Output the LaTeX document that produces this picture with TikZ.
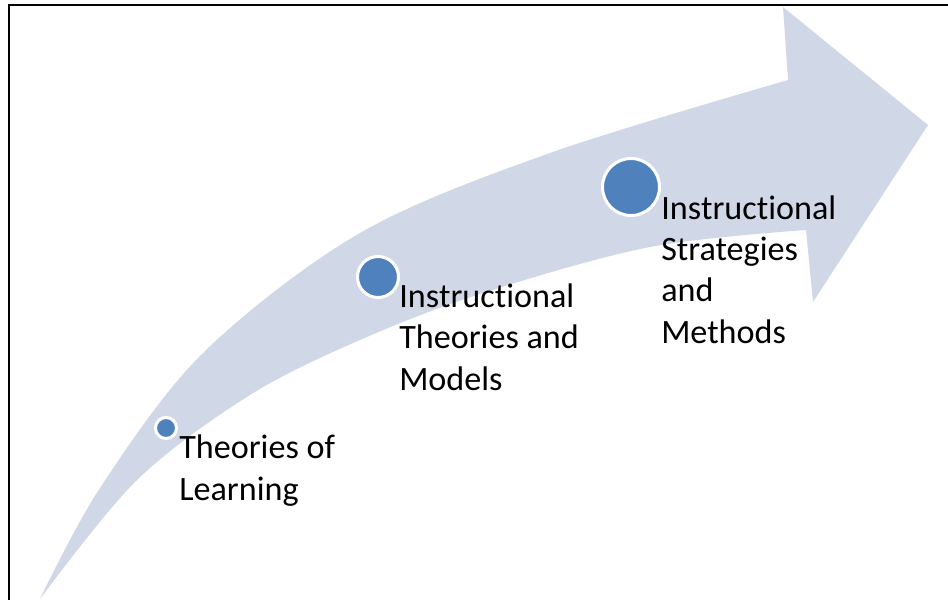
\documentclass[tikz,border=0pt]{standalone}
\usepackage{fontspec}
\setmainfont{Carlito}[Ligatures=NoCommon,Contextuals=NoAlternate]
\definecolor{bandfill}{RGB}{208,216,232}
\definecolor{dotblue}{RGB}{79,129,189}
\begin{document}
\begin{tikzpicture}[x=0.75pt,y=-0.75pt,
  dot/.style={circle,fill=dotblue,draw=white,line width=2.25pt,inner sep=0pt},
  steplabel/.style={anchor=base west,align=left,inner sep=0pt,
    font=\fontsize{25.6}{30.9}\selectfont},
  frameline/.style={line width=2.1pt,black,line cap=rect}]
\useasboundingbox (0,0) rectangle (948,599);

% curved band ending in a broad arrowhead
\fill[bandfill]
  plot[smooth,tension=0.55] coordinates {(40,599) (100,488) (203,353)
    (360,233) (550,153) (788,80)}
  -- (783,7) -- (928,125) -- (813,302) -- (806,230)
  -- plot[smooth,tension=0.55] coordinates {(806,230) (650,247) (483,293)
    (360,340) (250,395) (137,480) (40,599)}
  -- cycle;

% stage markers
\node[dot,minimum size=15.75pt] (c1) at (166,428) {};
\node[dot,minimum size=30.75pt] (c2) at (378,277) {};
\node[dot,minimum size=42.75pt] (c3) at (631,187) {};

% stage labels (anchored at the baseline of the last line)
\node[steplabel] (t1) at (179,500) {Theories of\\Learning};
\node[steplabel] (t2) at (399,390) {Ins\kern0pt truc\kern0pt tional\\Theories and\\Models};
\node[steplabel] (t3) at (661,343) {Ins\kern0pt truc\kern0pt tional\\Strategies\\and\\Methods};

% frame along the top and left edges
\coordinate (ftr) at (948,5);
\coordinate (ftl) at (9,5);
\coordinate (fbl) at (9,599);
\draw[frameline] (ftr) -- (ftl) -- (fbl);
\end{tikzpicture}
\end{document}
